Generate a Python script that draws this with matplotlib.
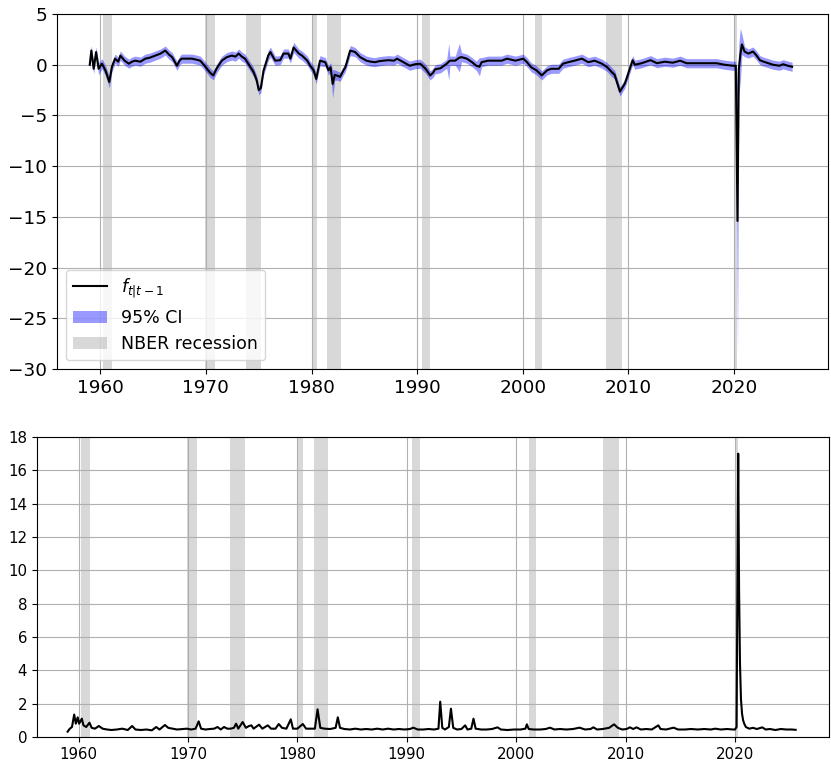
import numpy as np
import matplotlib
matplotlib.use("Agg")
import matplotlib.pyplot as plt

# filtered factor f_{t|t-1} with 95% CI half-width
top_years = [
    1959.0, 1959.15, 1959.37, 1959.6, 1959.84, 1960.16, 1960.5, 1960.85, 1961.1, 1961.4, 1961.7, 1961.9,
    1962.3, 1962.7, 1963.0, 1963.3, 1963.8, 1964.26, 1964.7, 1965.2, 1965.7, 1966.15, 1966.5, 1966.8,
    1967.26, 1967.5, 1967.7, 1968.2, 1968.67, 1969.1, 1969.46, 1969.8,
    1970.1, 1970.4, 1970.7, 1971.0, 1971.5, 1971.98, 1972.45, 1972.8, 1973.1, 1973.4, 1973.7, 1974.2,
    1974.5, 1974.8, 1975.0, 1975.2, 1975.45, 1975.9, 1976.1, 1976.56, 1977.03, 1977.35, 1977.8, 1978.0,
    1978.3, 1978.8, 1979.1, 1979.6, 1979.87,
    1980.2, 1980.44, 1980.8, 1981.3, 1981.6, 1981.8, 1982.0, 1982.2, 1982.5, 1982.7, 1983.0, 1983.2,
    1983.66, 1984.13, 1984.6, 1985.2, 1985.6, 1986.0, 1986.4, 1986.8, 1987.3, 1987.8, 1988.1, 1988.7,
    1989.3, 1989.8,
    1990.3, 1990.8, 1991.23, 1991.5, 1991.7, 1992.2, 1992.8, 1993.0, 1993.1, 1993.6, 1994.0, 1994.2,
    1994.7, 1995.2, 1995.6, 1995.9, 1996.1, 1996.7, 1997.4, 1998.0, 1998.5, 1999.3,
    2000.05, 2000.4, 2000.8, 2001.3, 2001.8, 2002.3, 2002.7, 2003.4, 2003.8, 2004.3, 2004.9, 2005.6,
    2006.2, 2006.8, 2007.5, 2008.0, 2008.4, 2008.7, 2009.2, 2009.67,
    2010.1, 2010.4, 2010.6, 2011.25, 2012.1, 2012.7, 2013.45, 2014.2, 2014.9, 2015.5, 2016.45, 2017.4,
    2018.35, 2019.1, 2019.9, 2020.17, 2020.33, 2020.45, 2020.6, 2020.75, 2021.0, 2021.35, 2021.8, 2022.1,
    2022.45, 2022.8, 2023.25, 2023.7, 2024.3, 2024.65, 2025.1, 2025.5,
]
top_f = [
    0.0, 1.4, -0.4, 1.25, -0.4, 0.1, -0.6, -1.7, -0.2, 0.6, 0.3, 0.9,
    0.4, 0.1, 0.3, 0.4, 0.3, 0.6, 0.7, 0.9, 1.1, 1.4, 1.0, 0.75,
    -0.1, 0.4, 0.6, 0.6, 0.6, 0.5, 0.4, 0.0,
    -0.4, -0.8, -1.05, -0.4, 0.4, 0.75, 0.9, 0.8, 1.1, 0.8, 0.6, -0.2,
    -0.7, -1.5, -2.5, -2.3, -0.6, 0.9, 1.25, 0.4, 0.45, 1.1, 1.1, 0.6,
    1.7, 1.1, 0.9, 0.4, -0.1,
    -0.55, -1.4, 0.4, 0.25, -0.55, -0.25, -1.9, -1.0, -1.1, -1.2, -0.6, -0.25,
    1.4, 1.25, 0.75, 0.4, 0.3, 0.25, 0.35, 0.4, 0.45, 0.4, 0.6, 0.25,
    -0.1, 0.05,
    0.1, -0.4, -1.05, -0.8, -0.45, -0.35, 0.1, 0.3, 0.4, 0.4, 0.7, 0.75,
    0.6, 0.25, -0.1, -0.2, 0.25, 0.4, 0.4, 0.4, 0.6, 0.4,
    0.6, 0.25, -0.25, -0.55, -1.05, -0.55, -0.4, -0.4, 0.1, 0.25, 0.4, 0.6,
    0.25, 0.4, 0.1, -0.25, -0.7, -1.0, -2.65, -1.85,
    -0.5, 0.45, 0.0, 0.15, 0.45, 0.15, 0.3, 0.2, 0.4, 0.15, 0.15, 0.15,
    0.15, 0.0, -0.1, -0.1, -15.4, -0.5, 1.0, 2.0, 1.3, 1.1, 1.3, 0.95,
    0.45, 0.3, 0.15, 0.0, -0.1, 0.05, -0.1, -0.2,
]
top_ci = [
    0.4, 0.5, 0.5, 0.5, 0.6, 0.5, 0.5, 0.6, 0.5, 0.45, 0.45, 0.45,
    0.45, 0.45, 0.45, 0.45, 0.45, 0.45, 0.45, 0.45, 0.45, 0.45, 0.45, 0.45,
    0.45, 0.45, 0.45, 0.45, 0.45, 0.45, 0.45, 0.45,
    0.45, 0.45, 0.45, 0.45, 0.45, 0.45, 0.45, 0.45, 0.45, 0.45, 0.45, 0.45,
    0.45, 0.45, 0.45, 0.45, 0.45, 0.5, 0.5, 0.45, 0.45, 0.45, 0.45, 0.45,
    0.5, 0.45, 0.45, 0.45, 0.45,
    0.45, 0.5, 0.5, 0.45, 0.45, 0.45, 1.4, 0.5, 0.45, 0.45, 0.45, 0.45,
    0.5, 0.45, 0.45, 0.45, 0.45, 0.45, 0.45, 0.45, 0.45, 0.45, 0.45, 0.45,
    0.45, 0.45,
    0.45, 0.45, 0.45, 0.45, 0.45, 0.45, 0.45, 1.8, 0.45, 0.45, 1.4, 0.45,
    0.45, 0.45, 0.45, 0.9, 0.45, 0.45, 0.45, 0.45, 0.45, 0.45,
    0.45, 0.45, 0.45, 0.45, 0.45, 0.45, 0.45, 0.45, 0.45, 0.45, 0.45, 0.45,
    0.45, 0.45, 0.45, 0.45, 0.45, 0.45, 0.45, 0.45,
    0.45, 0.45, 0.45, 0.45, 0.45, 0.45, 0.45, 0.45, 0.45, 0.45, 0.45, 0.45,
    0.45, 0.45, 0.45, 0.45, 13.3, 2.5, 2.6, 1.0, 0.5, 0.45, 0.45, 0.45,
    0.45, 0.45, 0.45, 0.45, 0.45, 0.45, 0.45, 0.45,
]

# lower panel series
bot_years = [
    1959.0, 1959.2, 1959.4, 1959.6, 1959.75, 1959.92, 1960.05, 1960.3, 1960.45, 1960.7, 1961.0, 1961.2,
    1961.5, 1961.85, 1962.2, 1962.6, 1963.0, 1963.5, 1964.0, 1964.5, 1964.9, 1965.2, 1965.7, 1966.2,
    1966.7, 1967.1, 1967.4, 1967.9, 1968.2, 1968.6, 1969.0, 1969.5, 1969.9,
    1970.3, 1970.7, 1970.98, 1971.2, 1971.6, 1972.0, 1972.4, 1972.7, 1973.0, 1973.3, 1973.6, 1973.9,
    1974.2, 1974.4, 1974.6, 1975.0, 1975.3, 1975.55, 1975.8, 1976.0, 1976.5, 1976.8, 1977.3, 1977.6,
    1978.0, 1978.3, 1978.6, 1979.0, 1979.4, 1979.6,
    1980.0, 1980.5, 1980.8, 1981.2, 1981.6, 1981.85, 1982.1, 1982.5, 1983.0, 1983.5, 1983.7, 1983.9,
    1984.3, 1984.8, 1985.3, 1985.8, 1986.3, 1986.8, 1987.3, 1987.8, 1988.3, 1988.8, 1989.3, 1989.8,
    1990.3, 1990.6, 1991.0, 1991.5, 1992.0, 1992.5, 1992.9, 1993.06, 1993.25, 1993.5, 1993.85, 1994.04,
    1994.25, 1994.6, 1995.0, 1995.34, 1995.55, 1995.9, 1996.1, 1996.3, 1996.8, 1997.3, 1997.8, 1998.3,
    1998.6, 1999.2, 1999.8,
    2000.4, 2000.85, 2000.98, 2001.15, 2001.6, 2002.2, 2002.7, 2003.1, 2003.5, 2004.0, 2004.6, 2005.2,
    2005.8, 2006.3, 2006.8, 2007.06, 2007.4, 2007.9, 2008.5, 2008.95, 2009.3, 2009.7,
    2010.1, 2010.4, 2010.7, 2011.0, 2011.4, 2011.9, 2012.4, 2013.0, 2013.2, 2013.7, 2014.4, 2014.8,
    2015.4, 2016.0, 2016.6, 2017.2, 2017.8, 2018.2, 2018.7, 2019.3, 2019.8, 2020.0, 2020.15, 2020.3,
    2020.38, 2020.46, 2020.55, 2020.65, 2020.75, 2020.85, 2021.0, 2021.3, 2021.66, 2022.0, 2022.5, 2022.8,
    2023.2, 2023.7, 2024.2, 2024.7, 2025.2, 2025.55,
]
bot_q = [
    0.32, 0.5, 0.6, 1.35, 0.8, 1.18, 0.8, 1.1, 0.7, 0.6, 0.86, 0.55,
    0.5, 0.66, 0.5, 0.45, 0.42, 0.45, 0.5, 0.42, 0.66, 0.45, 0.42, 0.45,
    0.4, 0.6, 0.45, 0.72, 0.55, 0.5, 0.45, 0.48, 0.5,
    0.45, 0.5, 0.94, 0.5, 0.45, 0.48, 0.5, 0.6, 0.45, 0.6, 0.5, 0.5,
    0.55, 0.8, 0.5, 0.9, 0.55, 0.65, 0.7, 0.5, 0.74, 0.5, 0.7, 0.5,
    0.5, 0.78, 0.55, 0.5, 1.06, 0.5,
    0.5, 0.78, 0.5, 0.5, 0.5, 1.66, 0.55, 0.5, 0.48, 0.55, 1.18, 0.55,
    0.48, 0.45, 0.5, 0.45, 0.48, 0.45, 0.5, 0.45, 0.5, 0.45, 0.48, 0.45,
    0.48, 0.56, 0.45, 0.45, 0.48, 0.45, 0.5, 2.12, 0.55, 0.45, 0.6, 1.7,
    0.55, 0.45, 0.48, 0.7, 0.45, 0.5, 1.1, 0.5, 0.45, 0.45, 0.48, 0.58,
    0.45, 0.42, 0.45,
    0.45, 0.5, 0.76, 0.48, 0.45, 0.45, 0.48, 0.56, 0.45, 0.48, 0.45, 0.48,
    0.56, 0.45, 0.48, 0.58, 0.45, 0.48, 0.55, 0.76, 0.55, 0.45,
    0.48, 0.58, 0.48, 0.58, 0.45, 0.48, 0.45, 0.7, 0.48, 0.45, 0.56, 0.45,
    0.45, 0.48, 0.45, 0.48, 0.45, 0.5, 0.45, 0.48, 0.45, 0.45, 0.6, 17.0,
    8.8, 4.5, 2.3, 1.4, 1.0, 0.8, 0.6, 0.5, 0.55, 0.48, 0.58, 0.45,
    0.48, 0.42, 0.48, 0.45, 0.45, 0.43,
]

# NBER recession start / end
rec_start = [1960.25, 1969.92, 1973.83, 1980.0, 1981.5, 1990.5, 2001.17, 2007.92, 2020.08]
rec_end = [1961.08, 1970.83, 1975.17, 1980.5, 1982.83, 1991.17, 2001.83, 2009.42, 2020.25]

assert len(top_years) == len(top_f) == len(top_ci)
assert len(bot_years) == len(bot_q)

ty = np.array(top_years)
tf = np.array(top_f)
tc = np.array(top_ci)

fig = plt.figure(figsize=(8.31, 7.62), dpi=100)
ax1 = fig.add_axes([0.0686, 0.5157, 0.9278, 0.4659])
ax2 = fig.add_axes([0.0445, 0.0328, 0.9531, 0.3937])

# top panel
ax1.plot(ty, tf, color='black', lw=1.5, label=r'$f_{t|t-1}$', zorder=3)
ax1.fill_between(ty, tf - tc, tf + tc, color='blue', alpha=0.4, lw=0, label='95% CI', zorder=2)
for i, (s, e) in enumerate(zip(rec_start, rec_end)):
    ax1.axvspan(s, e, color='gray', alpha=0.3, lw=0, label='NBER recession' if i == 0 else None)
ax1.set_xlim(1955.9, 2028.9)
ax1.set_ylim(-30, 5)
ax1.set_yticks(np.arange(-30, 6, 5))
ax1.grid(True)
ax1.tick_params(labelsize=13.3)
ax1.legend(loc='lower left', fontsize=12.5)

# bottom panel
ax2.plot(bot_years, bot_q, color='black', lw=1.5, zorder=3)
for s, e in zip(rec_start, rec_end):
    ax2.axvspan(s, e, color='gray', alpha=0.3, lw=0)
ax2.set_xlim(1956.2, 2028.6)
ax2.set_ylim(0, 18)
ax2.set_yticks(np.arange(0, 19, 2))
ax2.grid(True)
ax2.tick_params(labelsize=10.8)

fig.savefig('out.png', dpi=100)
